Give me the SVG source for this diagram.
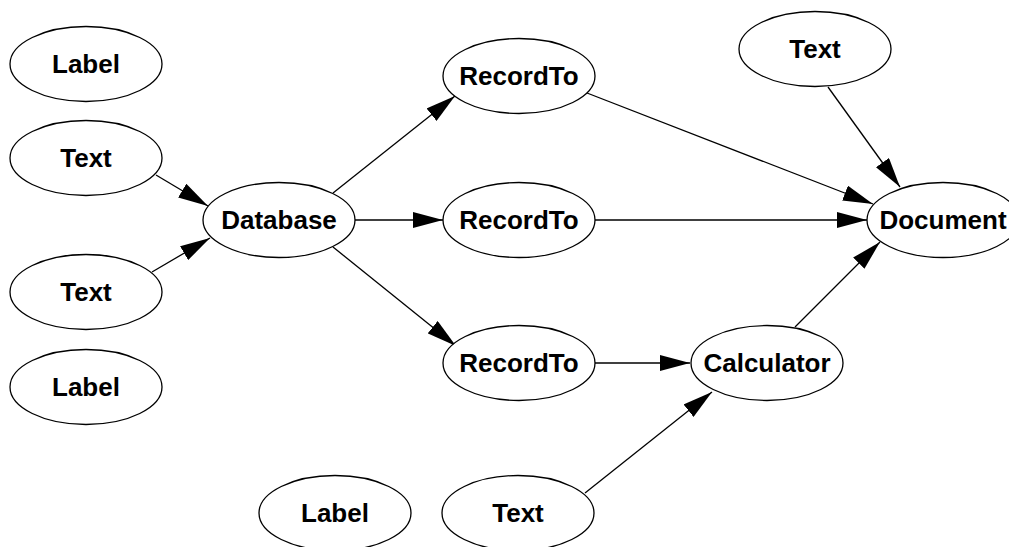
<svg xmlns="http://www.w3.org/2000/svg" width="1009" height="547" viewBox="0 0 1009 547">
  <style>
    .node ellipse { fill: #ffffff; stroke: #000000; stroke-width: 1.3; }
    .node text { font-family: "Liberation Sans", Arial, sans-serif; font-weight: bold; font-size: 26px; fill: #000000; text-anchor: middle; }
    .edges line { stroke: #000000; stroke-width: 1.3; marker-end: url(#arrow); }
  </style>
  <defs>
    <marker id="arrow" viewBox="0 0 30 16" markerWidth="30" markerHeight="16" markerUnits="userSpaceOnUse" refX="30" refY="8" orient="auto">
      <path d="M0,0 L30,8 L0,16 z" fill="#000000"/>
    </marker>
  </defs>
  <rect width="1009" height="547" fill="#ffffff"/>

  <!-- connectors -->
  <g id="edges" class="edges">
    <line x1="156" y1="175" x2="208" y2="206"/>
    <line x1="152" y1="272" x2="210" y2="238"/>
    <line x1="333" y1="193" x2="455" y2="96"/>
    <line x1="355" y1="220" x2="443" y2="220"/>
    <line x1="333" y1="247" x2="456" y2="346"/>
    <line x1="587" y1="93" x2="873" y2="204"/>
    <line x1="595" y1="220" x2="867" y2="220"/>
    <line x1="595" y1="363" x2="690" y2="363"/>
    <line x1="828" y1="87" x2="900" y2="187"/>
    <line x1="795" y1="327" x2="880" y2="242"/>
    <line x1="585" y1="493" x2="712" y2="392"/>
  </g>

  <!-- nodes -->
  <g id="label1" class="node"><ellipse cx="86" cy="64" rx="76" ry="37.5"/><text x="86" y="73">Label</text></g>
  <g id="text1" class="node"><ellipse cx="86" cy="158" rx="76" ry="37.5"/><text x="86" y="167">Text</text></g>
  <g id="text2" class="node"><ellipse cx="86" cy="292" rx="76" ry="37.5"/><text x="86" y="301">Text</text></g>
  <g id="label2" class="node"><ellipse cx="86" cy="387" rx="76" ry="37.5"/><text x="86" y="396">Label</text></g>
  <g id="database" class="node"><ellipse cx="279" cy="220" rx="76" ry="37.5"/><text x="279" y="229">Database</text></g>
  <g id="recordto1" class="node"><ellipse cx="519" cy="76" rx="76" ry="37.5"/><text x="519" y="85">RecordTo</text></g>
  <g id="recordto2" class="node"><ellipse cx="519" cy="220" rx="76" ry="37.5"/><text x="519" y="229">RecordTo</text></g>
  <g id="recordto3" class="node"><ellipse cx="519" cy="363" rx="76" ry="37.5"/><text x="519" y="372">RecordTo</text></g>
  <g id="text3" class="node"><ellipse cx="815" cy="49" rx="76" ry="37.5"/><text x="815" y="58">Text</text></g>
  <g id="document" class="node"><ellipse cx="943" cy="220" rx="76" ry="37.5"/><text x="943" y="229">Document</text></g>
  <g id="calculator" class="node"><ellipse cx="767" cy="363" rx="76" ry="37.5"/><text x="767" y="372">Calculator</text></g>
  <g id="label3" class="node"><ellipse cx="335" cy="513" rx="76" ry="37.5"/><text x="335" y="522">Label</text></g>
  <g id="text4" class="node"><ellipse cx="518" cy="513" rx="76" ry="37.5"/><text x="518" y="522">Text</text></g>
</svg>
